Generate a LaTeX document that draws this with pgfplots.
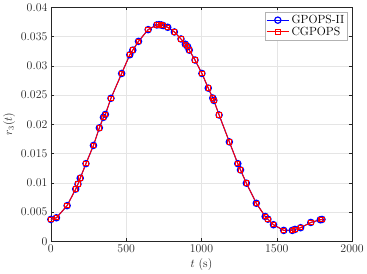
\documentclass[border=0pt]{standalone}
\usepackage{pgfplots}
\pgfplotsset{compat=1.18}
\definecolor{axgray}{rgb}{0.15,0.15,0.15}
\definecolor{gridgray}{rgb}{0.9,0.9,0.9}
\begin{document}
\begin{tikzpicture}
\begin{axis}[
  scale only axis,
  width=304bp, height=236bp,
  xmin=0, xmax=2000, ymin=0, ymax=0.04,
  xtick={0,500,1000,1500,2000},
  xticklabels={0,500,1000,1500,2000},
  ytick={0,0.005,0.01,0.015,0.02,0.025,0.03,0.035,0.04},
  yticklabels={0,0.005,0.01,0.015,0.02,0.025,0.03,0.035,0.04},
  scaled y ticks=false,
  grid=major,
  major grid style={gridgray, line width=0.5pt},
  axis line style={axgray, line width=0.5pt},
  tick style={axgray, line width=0.5pt},
  tick align=inside,
  major tick length=3pt,
  ticklabel style={text=axgray, font=\fontsize{12}{14}\selectfont},
  xlabel={$t$ (s)}, ylabel={$r_3(t)$},
  label style={font=\fontsize{12}{14}\selectfont},
  xlabel style={text=axgray, yshift=1pt},
  ylabel style={text=axgray, yshift=-1pt},
  legend style={at={(0.985,0.98)}, anchor=north east, draw=gray!60, fill=white, font=\fontsize{12}{14}\selectfont, inner sep=1pt, row sep=-2pt},
  legend cell align=left,
  legend image code/.code={\draw[mark repeat=2,mark phase=2] plot coordinates {(0cm,0cm) (0.4cm,0cm) (0.8cm,0cm)};},
]
\pgfplotstableread{
t r
0 0.00373
37 0.00402
108 0.0061
165 0.00893
180 0.00978
195 0.0108
233 0.01328
283 0.0164
322 0.0194
349 0.0212
362 0.0217
399 0.02446
470 0.0287
524 0.0319
544 0.0327
582 0.0342
646 0.0362
703 0.0370
718 0.03705
733 0.0370
745 0.0369
776 0.0366
820 0.0358
864 0.0346
893 0.0337
908 0.0333
919 0.0327
957 0.0310
1003 0.0287
1045 0.0262
1075 0.0245
1082 0.0241
1117 0.0216
1185 0.0170
1241 0.01328
1259 0.0122
1298 0.00994
1364 0.0065
1423 0.00424
1441 0.00378
1478 0.00283
1546 0.00186
1603 0.00186
1621 0.00203
1658 0.00232
1726 0.00322
1789 0.00368
1800 0.00373
}\datatable
\addplot[blue, line width=1pt, mark=o, mark size=3.2pt, mark options={line width=1.2pt}] table[x=t,y=r]{\datatable};
\addlegendentry{GPOPS-II}
\addplot[red, line width=1pt, mark=square, mark size=2.2pt, mark options={line width=1pt}] table[x=t,y=r]{\datatable};
\addlegendentry{CGPOPS}
\end{axis}
\end{tikzpicture}
\end{document}
